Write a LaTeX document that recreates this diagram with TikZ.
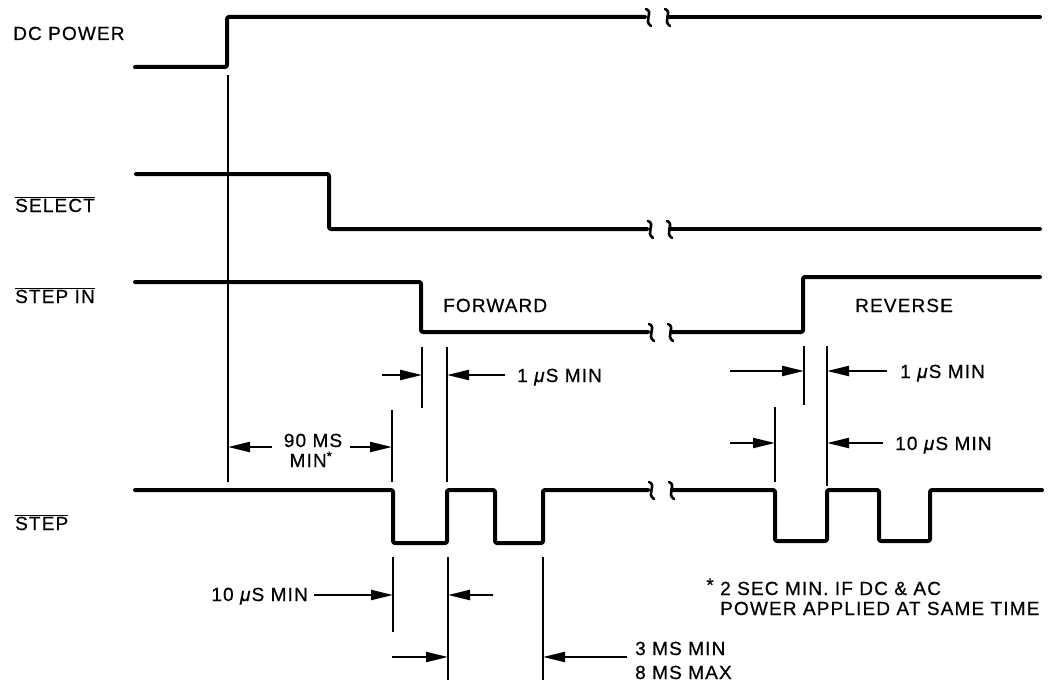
\documentclass[tikz,border=0pt]{standalone}
\usepackage{fontspec}
\setmainfont{Liberation Sans}[LetterSpace=6,FakeBold=0.6]
\usetikzlibrary{arrows.meta}
\newcommand\ovl[1]{$\overline{\mbox{#1}}$}
\begin{document}
\begin{tikzpicture}[x=1pt,y=-1pt,
  font=\fontsize{19}{21}\selectfont,
  sig/.style={line width=4pt, rounded corners=2pt, line cap=round, line join=round},
  ext/.style={line width=2.2pt},
  dim/.style={line width=2.2pt, -{Triangle[length=22pt,width=10pt]}},
  lbl/.style={inner sep=0pt, anchor=base west},
  brk/.pic={\draw[line width=2.6pt, line cap=round] (-2,-8) .. controls (6,-5) and (-5,4) .. (3,9);}]
\useasboundingbox (0,0) rectangle (1051,682);

% signal names
\node[lbl] (ndc) at (13,40) {DC POWER};
\node[lbl] (nsel) at (15,212) {\ovl{SELECT}};
\node[lbl] (nsin) at (15,303) {\ovl{STEP IN}};
\node[lbl] (nstp) at (15,530) {\ovl{STEP}};

% DC POWER
\draw[sig] (135,67) -- (227,67) -- (227,17) -- (645,17);
\pic at (648,17) {brk};
\pic at (667,17) {brk};
\draw[sig] (668,17) -- (1040,17);

% SELECT
\draw[sig] (136,174) -- (329,174) -- (329,229) -- (647,229);
\pic at (650,229) {brk};
\pic at (669,229) {brk};
\draw[sig] (670,229) -- (1040,229);

% STEP IN
\draw[sig] (135,282) -- (421,282) -- (421,332) -- (648,332);
\pic at (651,332) {brk};
\pic at (670,332) {brk};
\draw[sig] (671,332) -- (803,332) -- (803,277) -- (1040,277);
\node[lbl] (nfwd) at (443,312) {FORWARD};
\node[lbl] (nrev) at (855,312) {REVERSE};

% STEP
\draw[sig] (135,490) -- (393,490) -- (393,543) -- (447,543) -- (447,490) -- (495,490)
  -- (495,543) -- (543,543) -- (543,490) -- (648,490);
\pic at (651,490) {brk};
\pic at (671,490) {brk};
\draw[sig] (672,490) -- (775,490) -- (775,541) -- (827,541) -- (827,490) -- (879,490)
  -- (879,541) -- (930,541) -- (930,490) -- (1042,490);

% extension lines
\coordinate (e0t) at (228,75);   \coordinate (e0b) at (228,482);
\coordinate (e1t) at (422,347);  \coordinate (e1b) at (422,408);
\coordinate (e2t) at (447,347);  \coordinate (e2b) at (447,482);
\coordinate (e3t) at (392,410);  \coordinate (e3b) at (392,482);
\coordinate (r1t) at (804,346);  \coordinate (r1b) at (804,405);
\coordinate (r2t) at (827,346);  \coordinate (r2b) at (827,486);
\coordinate (r3t) at (775,407);  \coordinate (r3b) at (775,482);
\coordinate (b1t) at (393,557);  \coordinate (b1b) at (393,632);
\coordinate (b2t) at (448,557);  \coordinate (b2b) at (448,680);
\coordinate (b3t) at (543,557);  \coordinate (b3b) at (543,680);
\foreach \a in {e0,e1,e2,e3,r1,r2,r3,b1,b2,b3} \draw[ext] (\a t) -- (\a b);

% forward 1 us
\coordinate (f1a) at (382,375); \coordinate (f1b) at (505,375);
\draw[dim] (f1a) -- (e1t |- f1a);
\draw[dim] (f1b) -- (e2t |- f1b);
\node[lbl] (nf1) at (517,382) {1 \textit{μ}S MIN};

% 90 ms
\coordinate (n1a) at (272,447); \coordinate (n1b) at (350,447);
\draw[dim] (n1a) -- (e0t |- n1a);
\draw[dim] (n1b) -- (e3t |- n1b);
\node[inner sep=0pt, anchor=base] (n90a) at (313,447) {90 MS};
\node[inner sep=0pt, anchor=base] (n90b) at (311,467) {MIN\textsuperscript{*}};

% reverse 1 us
\coordinate (q1a) at (730,371); \coordinate (q1b) at (887,371);
\draw[dim] (q1a) -- (r1t |- q1a);
\draw[dim] (q1b) -- (r2t |- q1b);
\node[lbl] (nr1) at (900,378) {1 \textit{μ}S MIN};

% reverse 10 us
\coordinate (q2a) at (730,443); \coordinate (q2b) at (883,443);
\draw[dim] (q2a) -- (r3t |- q2a);
\draw[dim] (q2b) -- (r2t |- q2b);
\node[lbl] (nr2) at (895,450) {10 \textit{μ}S MIN};

% bottom 10 us
\coordinate (p1a) at (314,595); \coordinate (p1b) at (493,595);
\draw[dim] (p1a) -- (b1t |- p1a);
\draw[dim] (p1b) -- (b2t |- p1b);
\node[inner sep=0pt, anchor=base east] (nb1) at (308,601) {10 \textit{μ}S MIN};

% 3 ms / 8 ms
\coordinate (p2a) at (392,657); \coordinate (p2b) at (627,657);
\draw[dim] (p2a) -- (b2t |- p2a);
\draw[dim] (p2b) -- (b3t |- p2b);
\node[lbl] (nb2) at (635,655) {3 MS MIN};
\node[lbl] (nb3) at (635,679) {8 MS MAX};

% footnote
\node[lbl] (fn1) at (720,595) {\llap{\raisebox{0.35ex}{*} }2 SEC MIN. IF DC \& AC};
\node[lbl] (fn2) at (720,615) {POWER APPLIED AT SAME TIME};
\end{tikzpicture}
\end{document}
